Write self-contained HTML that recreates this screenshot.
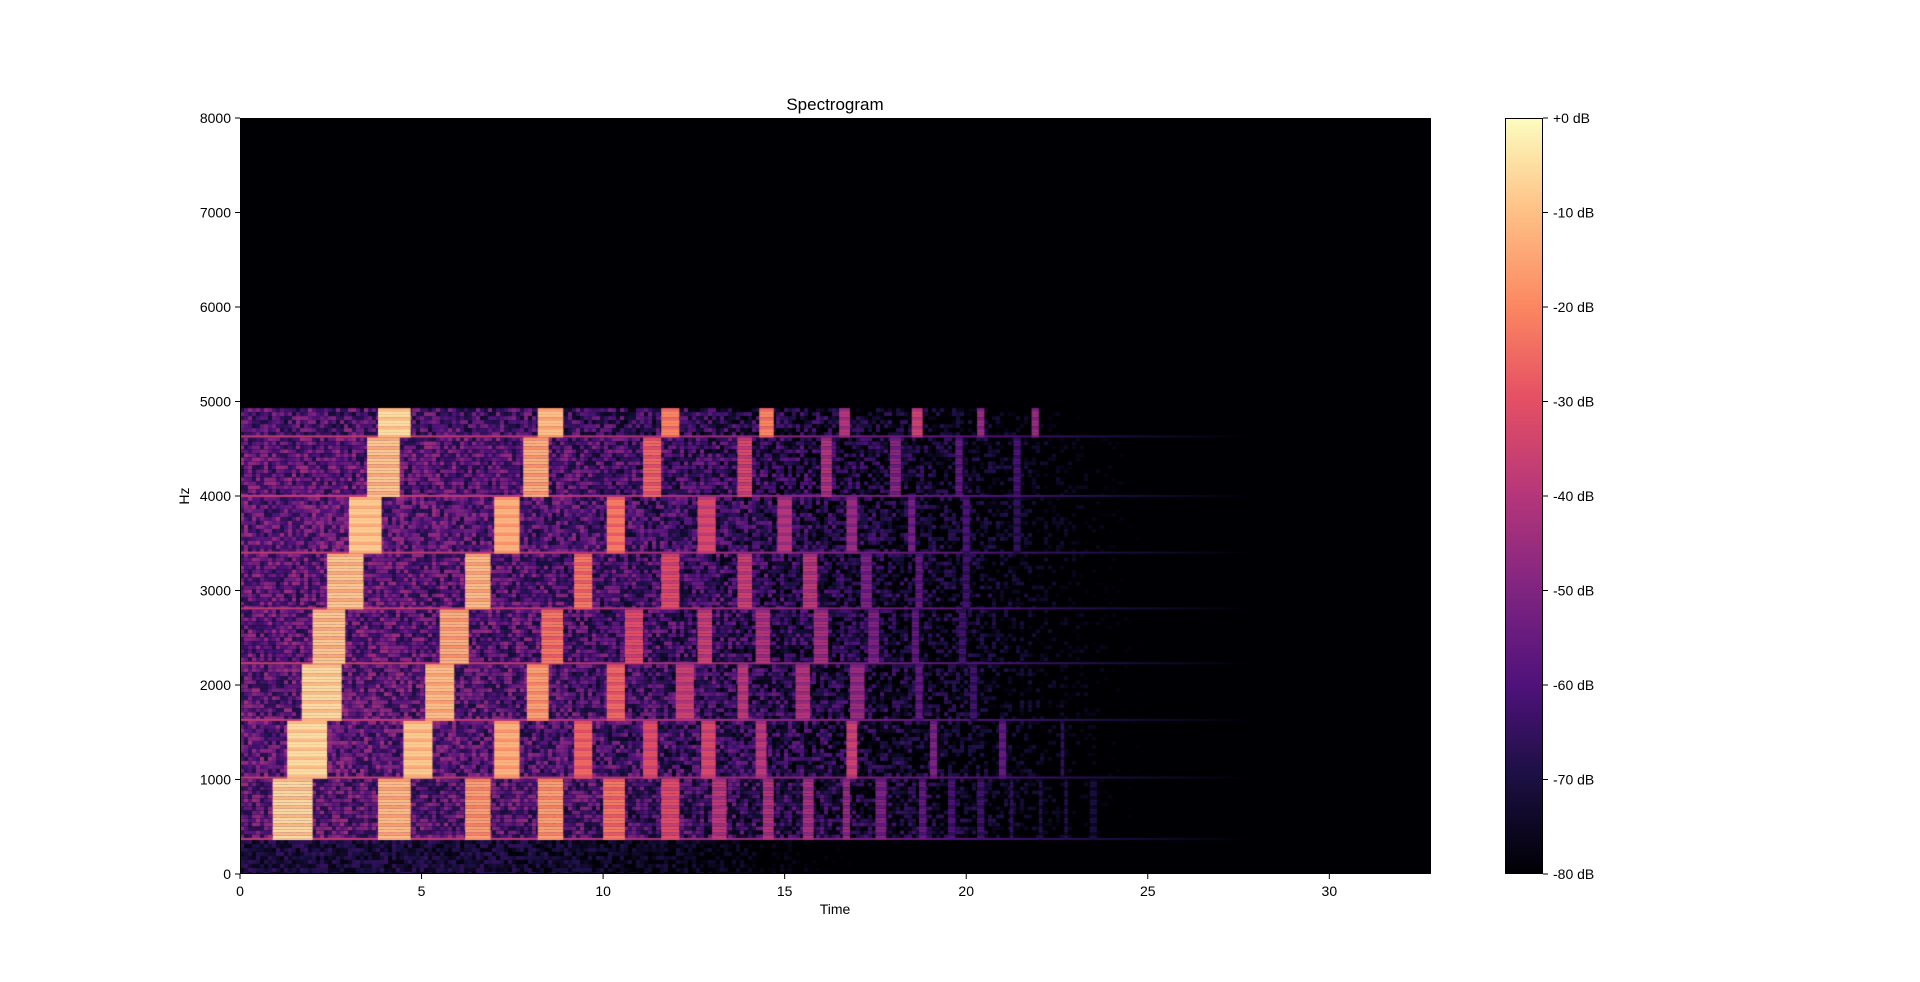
<!DOCTYPE html>
<html><head><meta charset="utf-8"><style>
html,body{margin:0;padding:0;background:#fff;}
#wrap{position:relative;width:1920px;height:982px;overflow:hidden;font-family:"Liberation Sans","DejaVu Sans",sans-serif;}
canvas{position:absolute;}
</style></head><body>
<div id="wrap">
<canvas id="spec" width="1191" height="756" style="left:240px;top:118px;width:1191px;height:756px;"></canvas>
<canvas id="cbar" width="38" height="756" style="left:1505px;top:118px;width:38px;height:756px;"></canvas>
<svg id="ov" width="1920" height="982" style="position:absolute;left:0;top:0"></svg>
</div>
<script>
const bandEdges=[360,1010,1620,2220,2800,3390,3990,4620,4930];
const bgTimes=[0,2,4,6,8,10,12,14,16,18,20,22,24,26,28,30,32,34];
const bgDb=[-57,-57,-57,-58,-59,-61,-63,-66,-70,-74,-78,-84,-90,-95,-100,-100,-100,-100];
const noteBand=[0,0,0,0,0,0,0,0,0,0,0,0,0,0,0,0,0,0,
1,1,1,1,1,1,1,1,1,1,1,
2,2,2,2,2,2,2,2,2,2,
3,3,3,3,3,3,3,3,3,3,
4,4,4,4,4,4,4,4,4,
5,5,5,5,5,5,5,5,5,
6,6,6,6,6,6,6,6,
7,7,7,7,7,7,7,7];
const noteStart=[0.9,3.8,6.2,8.2,10.0,11.6,13.0,14.4,15.5,16.6,17.5,18.7,19.5,20.3,21.2,22.0,22.7,23.4,
1.3,4.5,7.0,9.2,11.1,12.7,14.2,16.7,19.0,20.9,22.6,
1.7,5.1,7.9,10.1,12.0,13.7,15.3,16.8,18.6,20.1,
2.0,5.5,8.3,10.6,12.6,14.2,15.8,17.3,18.5,19.8,
2.4,6.2,9.2,11.6,13.7,15.5,17.1,18.6,19.9,
3.0,7.0,10.1,12.6,14.8,16.7,18.4,19.9,21.3,
3.5,7.8,11.1,13.7,16.0,17.9,19.7,21.3,
3.8,8.2,11.6,14.3,16.5,18.5,20.3,21.8];
const noteEnd=[2.0,4.7,6.9,8.9,10.6,12.1,13.4,14.7,15.8,16.8,17.8,18.9,19.7,20.5,21.3,22.1,22.8,23.6,
2.4,5.3,7.7,9.7,11.5,13.1,14.5,17.0,19.2,21.1,22.7,
2.8,5.9,8.5,10.6,12.5,14.0,15.7,17.2,18.8,20.3,
2.9,6.3,8.9,11.1,13.0,14.6,16.2,17.6,18.7,20.0,
3.4,6.9,9.7,12.1,14.1,15.9,17.4,18.8,20.1,
3.9,7.7,10.6,13.1,15.2,17.0,18.6,20.1,21.5,
4.4,8.5,11.6,14.1,16.3,18.2,19.9,21.5,
4.7,8.9,12.1,14.7,16.8,18.8,20.5,22.0];
const noteDb=[-5,-10,-15,-15,-22,-30,-38,-40,-42,-45,-50,-55,-60,-62,-65,-68,-68,-70,
-5,-8,-12,-25,-30,-32,-38,-35,-50,-55,-65,
-5,-10,-15,-25,-35,-38,-40,-45,-55,-62,
-8,-12,-22,-30,-35,-40,-42,-50,-55,-62,
-8,-10,-22,-30,-35,-38,-50,-55,-62,
-8,-12,-22,-32,-40,-45,-52,-60,-65,
-8,-12,-25,-32,-40,-48,-55,-60,
-5,-10,-20,-20,-40,-35,-45,-45];
const xTicks=[0,5,10,15,20,25,30];
const yTicks=[0,1000,2000,3000,4000,5000,6000,7000,8000];
const cbTicks=[0,-10,-20,-30,-40,-50,-60,-70,-80];

const AX={l:240,t:118,w:1191,h:756,tmax:32.8,fmax:8000,dmin:-80,dmax:0};
const xs=t=>t/AX.tmax*AX.w;
const ys=f=>AX.h-f/AX.fmax*AX.h;
const stops=[[0,[0,0,4]],[0.13,[28,16,68]],[0.25,[79,18,123]],[0.38,[129,37,129]],[0.5,[181,54,122]],[0.63,[229,80,100]],[0.75,[251,135,97]],[0.88,[254,194,135]],[1,[252,253,191]]];
function magma(db){let v=(db-AX.dmin)/(AX.dmax-AX.dmin);v=Math.max(0,Math.min(1,v));
for(let i=1;i<stops.length;i++){if(v<=stops[i][0]){const a=stops[i-1],b=stops[i],k=(v-a[0])/(b[0]-a[0]);
return 'rgb('+a[1].map((c,j)=>Math.round(c+(b[1][j]-c)*k)).join(',')+')';}}return 'rgb(252,253,191)';}
function bgAt(t){for(let i=1;i<bgTimes.length;i++){if(t<=bgTimes[i]){const k=(t-bgTimes[i-1])/(bgTimes[i]-bgTimes[i-1]);return bgDb[i-1]+(bgDb[i]-bgDb[i-1])*k;}}return bgDb[bgDb.length-1];}
function tex(a,b){let h=(a*374761393+b*668265263)|0;h=(h^(h>>>13))*1274126177;h=h^(h>>>16);return ((h>>>0)%1000)/1000;}

const c=document.getElementById('spec').getContext('2d');
c.fillStyle=magma(-80);c.fillRect(0,0,AX.w,AX.h);
const cw=4,rh=4;
for(let x=0;x<AX.w;x+=cw){const t=(x+cw/2)/AX.w*AX.tmax;const base=bgAt(t);
 for(let b=0;b<bandEdges.length-1;b++){const y0=ys(bandEdges[b+1]),y1=ys(bandEdges[b]);
  for(let y=y0;y<y1;y+=rh){const d=base+(tex(x,Math.round(y))-0.5)*26-(b===7?3:0);
   c.fillStyle=magma(d);c.fillRect(x,y,cw,Math.min(rh,y1-y));}
  c.fillStyle=magma(base+20);c.fillRect(x,y1-2,cw,2);}
 const yl=ys(bandEdges[0]);
 for(let y=yl;y<AX.h;y+=rh){const d=base-14+(tex(x+7,Math.round(y))-0.5)*14;c.fillStyle=magma(d);c.fillRect(x,y,cw,rh);}
}
for(let i=0;i<noteBand.length;i++){
 const b=noteBand[i];const x0=xs(noteStart[i]),x1=xs(noteEnd[i]);
 const y0=ys(bandEdges[b+1]),y1=ys(bandEdges[b]);
 for(let y=y0;y<y1;y+=3){const stripe=(Math.floor((y-y0)/3)%3===0)?-6:0;
  c.fillStyle=magma(noteDb[i]+stripe);c.fillRect(x0,y,x1-x0,Math.min(3,y1-y));}
}
const cb=document.getElementById('cbar').getContext('2d');
for(let y=0;y<756;y++){cb.fillStyle=magma(-80*y/755);cb.fillRect(0,y,38,1);}

const NS='http://www.w3.org/2000/svg';const ov=document.getElementById('ov');
function el(tag,attrs,txt){const e=document.createElementNS(NS,tag);for(const k in attrs)e.setAttribute(k,attrs[k]);if(txt!==undefined)e.textContent=txt;ov.appendChild(e);return e;}
let e;
e=el('rect',{x:AX.l+0.5,y:AX.t+0.5,width:AX.w-1,height:AX.h-1,fill:'none',stroke:'#000','stroke-width':1});


e=el('rect',{x:1505.5,y:118.5,width:37,height:755,fill:'none',stroke:'#000','stroke-width':1});


xTicks.forEach(v=>{const x=AX.l+xs(v);
 e=el('line',{x1:x,x2:x,y1:874,y2:879,stroke:'#000'});
 
 
 e=el('text',{x:x,y:896,'font-size':14,'text-anchor':'middle',fill:'#000'},String(v));
 
 });
yTicks.forEach(v=>{const y=AX.t+ys(v);
 e=el('line',{x1:235,x2:240,y1:y,y2:y,stroke:'#000'});
 
 
 e=el('text',{x:231,y:y+5,'font-size':14,'text-anchor':'end',fill:'#000'},String(v));
 
 });
cbTicks.forEach(v=>{const y=118+(-v/80)*756;
 e=el('line',{x1:1543,x2:1548,y1:y,y2:y,stroke:'#000'});
 
 
 e=el('text',{x:1553,y:y+5,'font-size':14,fill:'#000'},(v===0?'+0':String(v))+' dB');
 
 });
e=el('text',{x:835,y:914,'font-size':14,'text-anchor':'middle',fill:'#000'},'Time');


e=el('text',{x:189,y:496,'font-size':14,'text-anchor':'middle',fill:'#000',transform:'rotate(-90 189 496)'},'Hz');


e=el('text',{x:835,y:110,'font-size':17,'text-anchor':'middle',fill:'#000'},'Spectrogram');


</script>
</body></html>
